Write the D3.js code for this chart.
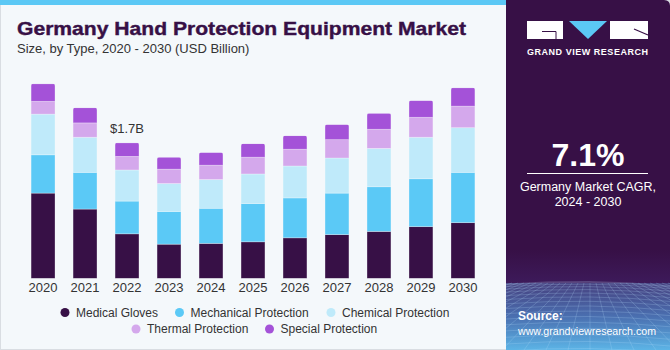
<!DOCTYPE html>
<html>
<head>
<meta charset="utf-8">
<script src="https://cdn.jsdelivr.net/npm/d3@7"></script>
<style>
  html, body { margin: 0; padding: 0; background: #fff; }
  #chart { width: 670px; height: 350px; }
  text { font-family: "Liberation Sans", Arial, sans-serif; }
</style>
</head>
<body>
<div id="chart"></div>
<script>
// Germany hand protection equipment market, stacked by type (USD billion).
var years = ['2020', '2021', '2022', '2023', '2024', '2025', '2026', '2027', '2028', '2029', '2030'];
var seriesNames = ['Medical Gloves', 'Mechanical Protection', 'Chemical Protection',
                   'Thermal Protection', 'Special Protection'];
var medical    = [1.07, 0.87, 0.56, 0.43, 0.44, 0.46, 0.51, 0.55, 0.59, 0.65, 0.70];
var mechanical = [0.48, 0.46, 0.41, 0.41, 0.44, 0.48, 0.50, 0.52, 0.56, 0.60, 0.63];
var chemical   = [0.51, 0.44, 0.39, 0.35, 0.36, 0.37, 0.40, 0.44, 0.48, 0.52, 0.56];
var thermal    = [0.16, 0.18, 0.17, 0.18, 0.18, 0.21, 0.21, 0.23, 0.24, 0.25, 0.27];
var special    = [0.22, 0.19, 0.17, 0.15, 0.16, 0.17, 0.17, 0.19, 0.20, 0.21, 0.23];
var seriesColors = ['#371046', '#5bc9f6', '#bfeafa', '#d4a8ec', '#a452d8'];
var annotYear = '2022';
var annotText = '$1.7B';
var cagrValue = '7.1%';
var cagrLines = ['Germany Market CAGR,', '2024 - 2030'];

(function () {
    var W = 670, H = 350;
    var panelX = 506;
    var svg = d3.select('#chart').append('svg')
        .attr('width', W).attr('height', H);

    var defs = svg.append('defs');

    // Background of the chart area
    svg.append('rect').attr('x', 0).attr('y', 0)
        .attr('width', W).attr('height', H).attr('fill', '#f4f8fb');
    svg.append('rect').attr('x', 0.5).attr('y', 0.5)
        .attr('width', W - 1).attr('height', H - 1)
        .attr('fill', 'none').attr('stroke', '#d9dde2');
    // Top accent strip
    svg.append('rect').attr('x', 0).attr('y', 0)
        .attr('width', panelX).attr('height', 5).attr('fill', '#5bc8f5');

    // Titles
    svg.append('text').attr('x', 17).attr('y', 35)
        .attr('font-size', 19).attr('font-weight', 'bold')
        .attr('fill', '#371046').attr('stroke', '#371046').attr('stroke-width', 0.4)
        .attr('textLength', 449).attr('lengthAdjust', 'spacingAndGlyphs')
        .text('Germany Hand Protection Equipment Market');
    svg.append('text').attr('x', 17).attr('y', 53)
        .attr('font-size', 13).attr('fill', '#333')
        .text('Size, by Type, 2020 - 2030 (USD Billion)');

    // Scales
    var baseY = 278.5;
    var pxPerB = 79.8;
    var x = d3.scaleBand().domain(years).range([13, 493]).padding(0.43);
    var y = d3.scaleLinear().domain([0, 1]).range([baseY, baseY - pxPerB]);

    var rows = years.map(function (yr, i) {
        return { year: yr, s0: medical[i], s1: mechanical[i], s2: chemical[i],
                 s3: thermal[i], s4: special[i] };
    });
    var keys = ['s0', 's1', 's2', 's3', 's4'];
    var stacked = d3.stack().keys(keys)(rows);

    // Rounded top for each bar via clip paths
    years.forEach(function (yr, i) {
        var total = medical[i] + mechanical[i] + chemical[i] + thermal[i] + special[i];
        defs.append('clipPath').attr('id', 'clip' + yr)
            .append('path')
            .attr('d', (function () {
                var x0 = x(yr), x1 = x(yr) + x.bandwidth(), t = y(total), r = 2;
                return 'M' + x0 + ',' + baseY + 'L' + x0 + ',' + (t + r) +
                    'Q' + x0 + ',' + t + ' ' + (x0 + r) + ',' + t +
                    'L' + (x1 - r) + ',' + t +
                    'Q' + x1 + ',' + t + ' ' + x1 + ',' + (t + r) +
                    'L' + x1 + ',' + baseY + 'Z';
            })());
    });

    var gBars = svg.append('g');
    stacked.forEach(function (layer, li) {
        gBars.selectAll(null).data(layer).enter().append('rect')
            .attr('clip-path', function (d) { return 'url(#clip' + d.data.year + ')'; })
            .attr('x', function (d) { return x(d.data.year); })
            .attr('y', function (d) { return y(d[1]); })
            .attr('width', x.bandwidth())
            .attr('height', function (d) { return y(d[0]) - y(d[1]); })
            .attr('fill', seriesColors[li])
            .attr('stroke', 'rgba(255,255,255,0.35)')
            .attr('stroke-width', 0.8);
    });

    // Year labels
    var xAxis = svg.append('g').attr('transform', 'translate(0,' + baseY + ')')
        .call(d3.axisBottom(x).tickSize(0).tickPadding(4));
    xAxis.select('.domain').remove();
    xAxis.selectAll('text')
        .attr('font-size', 13).attr('fill', '#333')
        .attr('font-family', '"Liberation Sans", Arial, sans-serif');

    // Annotation
    var ai = years.indexOf(annotYear);
    var aTotal = medical[ai] + mechanical[ai] + chemical[ai] + thermal[ai] + special[ai];
    svg.append('text')
        .attr('x', x(annotYear) + x.bandwidth() / 2)
        .attr('y', y(aTotal) - 10)
        .attr('text-anchor', 'middle')
        .attr('font-size', 13).attr('fill', '#333')
        .text(annotText);

    // Legend
    var legendPos = [
        { dx: 65, ty: 312.5 }, { dx: 179.5, ty: 312.5 }, { dx: 331, ty: 312.5 },
        { dx: 136, ty: 329 }, { dx: 269.5, ty: 329 }
    ];
    var lg = svg.append('g');
    seriesNames.forEach(function (name, i) {
        var p = legendPos[i];
        lg.append('circle').attr('cx', p.dx).attr('cy', p.ty).attr('r', 4.5)
            .attr('fill', seriesColors[i]);
        lg.append('text').attr('x', p.dx + 11).attr('y', p.ty + 4.3)
            .attr('font-size', 12).attr('fill', '#333').text(name);
    });

    // ---- Right panel ----
    var pg = defs.append('linearGradient').attr('id', 'floor')
        .attr('x1', 0).attr('y1', 0).attr('x2', 0).attr('y2', 1);
    pg.append('stop').attr('offset', '0%').attr('stop-color', '#46407f');
    pg.append('stop').attr('offset', '50%').attr('stop-color', '#4a6fb0');
    pg.append('stop').attr('offset', '100%').attr('stop-color', '#5cb4e6');
    var sky = defs.append('linearGradient').attr('id', 'sky')
        .attr('x1', 0).attr('y1', 0).attr('x2', 0).attr('y2', 1);
    sky.append('stop').attr('offset', '0%').attr('stop-color', '#371046');
    sky.append('stop').attr('offset', '100%').attr('stop-color', '#3d1a5a');
    defs.append('clipPath').attr('id', 'panelClip').append('path')
        .attr('d', 'M' + panelX + ',0L' + (W - 6) + ',0Q' + W + ',0 ' + W + ',6L' + W + ',' + H +
              'L' + panelX + ',' + H + 'Z');

    var panel = svg.append('g').attr('clip-path', 'url(#panelClip)');
    var horizon = 283;
    panel.append('rect').attr('x', panelX).attr('y', 0)
        .attr('width', W - panelX).attr('height', 250).attr('fill', '#371046');
    panel.append('rect').attr('x', panelX).attr('y', 250)
        .attr('width', W - panelX).attr('height', horizon - 250).attr('fill', 'url(#sky)');
    panel.append('rect').attr('x', panelX).attr('y', horizon)
        .attr('width', W - panelX).attr('height', H - horizon).attr('fill', 'url(#floor)');

    // Wireframe floor (decorative)
    var grid = panel.append('g').attr('stroke', 'rgba(190,225,255,0.35)')
        .attr('stroke-width', 0.6).attr('fill', 'none');
    d3.range(0, 16).forEach(function (k) {
        var yy = horizon + Math.pow(k / 15, 1.6) * (H - horizon) + 1;
        grid.append('path')
            .attr('d', 'M' + panelX + ',' + yy + 'Q' + 590 + ',' + (yy - 6) + ' ' + W + ',' + (yy + 2));
    });
    d3.range(-30, 31).forEach(function (k) {
        var vx = 590;
        grid.append('line')
            .attr('x1', vx + k * 6).attr('y1', horizon)
            .attr('x2', vx + k * 22).attr('y2', H);
    });

    // Logo
    var logo = svg.append('g');
    logo.append('rect').attr('x', 527).attr('y', 21).attr('width', 36).attr('height', 18).attr('fill', '#fff');
    logo.append('path').attr('d', 'M542,31.5L556,31.5L556,39').attr('stroke', '#371046')
        .attr('stroke-width', 1).attr('fill', 'none');
    logo.append('path').attr('d', 'M569,21L607,21L588,39Z').attr('fill', '#5bc8f5');
    logo.append('rect').attr('x', 610).attr('y', 21).attr('width', 38).attr('height', 18).attr('fill', '#fff');
    logo.append('path').attr('d', 'M634,29L648,35').attr('stroke', '#371046')
        .attr('stroke-width', 1.2).attr('fill', 'none');
    logo.append('text').attr('x', 587.5).attr('y', 54.5).attr('text-anchor', 'middle')
        .attr('font-size', 9).attr('font-weight', 'bold').attr('fill', '#fff')
        .attr('textLength', 121).attr('lengthAdjust', 'spacing')
        .text('GRAND VIEW RESEARCH');

    // CAGR block
    svg.append('text').attr('x', 588).attr('y', 166).attr('text-anchor', 'middle')
        .attr('font-size', 32).attr('font-weight', 'bold').attr('fill', '#fff')
        .text(cagrValue);
    svg.append('line').attr('x1', 527).attr('x2', 648)
        .attr('y1', 173.5).attr('y2', 173.5)
        .attr('stroke', '#fff').attr('stroke-width', 1);
    cagrLines.forEach(function (t, i) {
        svg.append('text').attr('x', 588).attr('y', 191 + i * 14.5)
            .attr('text-anchor', 'middle').attr('font-size', 12.5).attr('fill', '#fff')
            .text(t);
    });

    // Source
    svg.append('text').attr('x', 518).attr('y', 320)
        .attr('font-size', 12).attr('font-weight', 'bold').attr('fill', '#fff')
        .text('Source:');
    svg.append('text').attr('x', 518).attr('y', 334.5)
        .attr('font-size', 11).attr('fill', '#fff')
        .attr('textLength', 138).attr('lengthAdjust', 'spacingAndGlyphs')
        .text('www.grandviewresearch.com');
})();
</script>
</body>
</html>
